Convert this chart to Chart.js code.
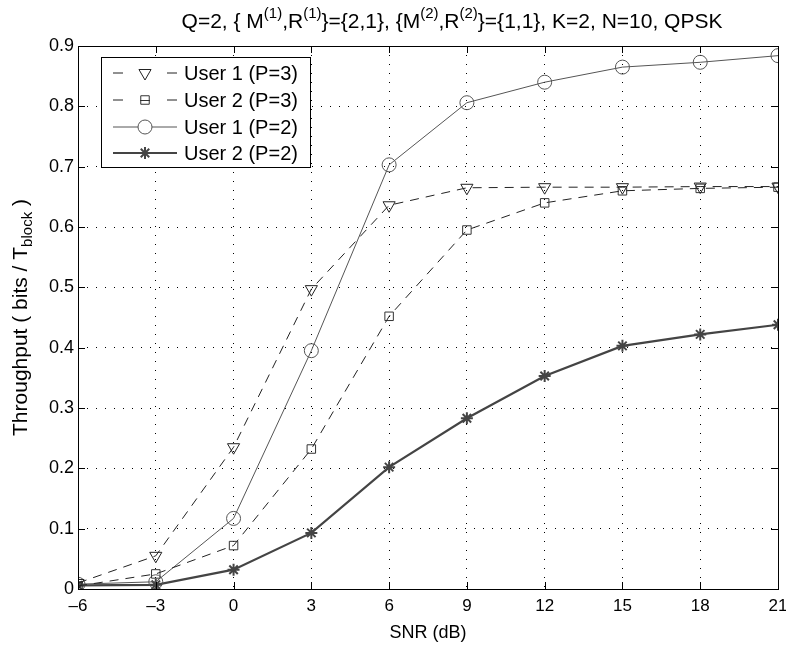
<!DOCTYPE html>
<html>
<head>
<meta charset="utf-8">
<script src="https://cdn.jsdelivr.net/npm/chart.js@4/dist/chart.umd.min.js"></script>
<style>
  html, body { margin: 0; padding: 0; background: #fff; }
  #wrap { width: 786px; height: 646px; }
</style>
</head>
<body>
<div id="wrap"><canvas id="chart" width="786" height="646"></canvas></div>
<script>
// SNR values (dB) and throughput per curve
const snr = [-6, -3, 0, 3, 6, 9, 12, 15, 18, 21];
const user1P3 = [0.010, 0.055, 0.235, 0.497, 0.636, 0.665, 0.666, 0.666, 0.667, 0.667];
const user2P3 = [0.005, 0.025, 0.072, 0.232, 0.452, 0.595, 0.640, 0.660, 0.664, 0.666];
const user1P2 = [0.008, 0.012, 0.117, 0.395, 0.703, 0.806, 0.840, 0.865, 0.873, 0.884];
const user2P2 = [0.006, 0.007, 0.032, 0.093, 0.202, 0.283, 0.353, 0.403, 0.422, 0.438];

const seriesLabels = ["User 1 (P=3)", "User 2 (P=3)", "User 1 (P=2)", "User 2 (P=2)"];
const xTickLabels = ["\u20136", "\u20133", "0", "3", "6", "9", "12", "15", "18", "21"];
const yTickLabels = ["0", "0.1", "0.2", "0.3", "0.4", "0.5", "0.6", "0.7", "0.8", "0.9"];

const FONT = "'Liberation Sans', Arial, sans-serif";

function toPoints(ys) {
    return snr.map((x, i) => ({ x: x, y: ys[i] }));
}

const datasets = [
    {
        label: seriesLabels[0],
        data: toPoints(user1P3),
        borderColor: "#222",
        borderWidth: 1,
        borderDash: [9, 7],
        pointStyle: "triangle",
        rotation: 180,
        pointRadius: 7,
        pointBorderWidth: 1,
        pointBorderColor: "#222",
        pointBackgroundColor: "rgba(0,0,0,0)"
    },
    {
        label: seriesLabels[1],
        data: toPoints(user2P3),
        borderColor: "#222",
        borderWidth: 1,
        borderDash: [9, 7],
        pointStyle: "rect",
        pointRadius: 6,
        pointBorderWidth: 1,
        pointBorderColor: "#333",
        pointBackgroundColor: "rgba(0,0,0,0)"
    },
    {
        label: seriesLabels[2],
        data: toPoints(user1P2),
        borderColor: "#555",
        borderWidth: 1,
        pointStyle: "circle",
        pointRadius: 7,
        pointBorderWidth: 1,
        pointBorderColor: "#555",
        pointBackgroundColor: "rgba(0,0,0,0)"
    },
    {
        label: seriesLabels[3],
        data: toPoints(user2P2),
        borderColor: "#444",
        borderWidth: 2.2,
        pointStyle: "star",
        pointRadius: 6,
        pointBorderWidth: 2,
        pointBorderColor: "#444",
        pointBackgroundColor: "rgba(0,0,0,0)"
    }
];

// draws text pieces with super/subscripts
function drawRich(ctx, parts, x, y, size, align) {
    const small = Math.round(size * 0.72);
    let total = 0;
    parts.forEach(p => {
        ctx.font = (p.sup || p.sub ? small : size) + "px " + FONT;
        p.w = ctx.measureText(p.t).width;
        total += p.w;
    });
    let cx = align === "center" ? x - total / 2 : x;
    ctx.textAlign = "left";
    ctx.textBaseline = "middle";
    parts.forEach(p => {
        ctx.font = (p.sup || p.sub ? small : size) + "px " + FONT;
        let dy = 0;
        if (p.sup) dy = -size * 0.38;
        if (p.sub) dy = size * 0.32;
        ctx.fillText(p.t, cx, y + dy);
        cx += p.w;
    });
}

const decorPlugin = {
    id: "decor",
    afterDraw(chart) {
        const ctx = chart.ctx;
        const a = chart.chartArea;
        const xs = chart.scales.x;
        const ys = chart.scales.y;
        ctx.save();

        // box
        ctx.strokeStyle = "#000";
        ctx.lineWidth = 1;
        ctx.setLineDash([]);
        ctx.strokeRect(Math.round(a.left) + 0.5, Math.round(a.top) + 0.5,
            Math.round(a.right - a.left), Math.round(a.bottom - a.top));

        // inward ticks
        const tl = 7;
        ctx.beginPath();
        snr.forEach(v => {
            const px = Math.round(xs.getPixelForValue(v)) + 0.5;
            ctx.moveTo(px, a.bottom); ctx.lineTo(px, a.bottom - tl);
            ctx.moveTo(px, a.top); ctx.lineTo(px, a.top + tl);
        });
        yTickLabels.forEach((s, i) => {
            const py = Math.round(ys.getPixelForValue(i / 10)) + 0.5;
            ctx.moveTo(a.left, py); ctx.lineTo(a.left + tl, py);
            ctx.moveTo(a.right, py); ctx.lineTo(a.right - tl, py);
        });
        ctx.stroke();

        // legend
        const lx = 101, ly = 57, lw = 209, lh = 110;
        ctx.fillStyle = "#fff";
        ctx.fillRect(lx, ly, lw, lh);
        ctx.strokeStyle = "#000";
        ctx.lineWidth = 1;
        ctx.strokeRect(lx + 0.5, ly + 0.5, lw, lh);
        const rows = [73, 100, 127, 153];
        chart.data.datasets.forEach((ds, i) => {
            const y = rows[i];
            ctx.strokeStyle = ds.borderColor;
            ctx.lineWidth = ds.borderWidth;
            ctx.setLineDash([]);
            ctx.beginPath();
            if (ds.borderDash) {
                ctx.moveTo(113, y); ctx.lineTo(123, y);
                ctx.moveTo(167, y); ctx.lineTo(177, y);
            } else {
                ctx.moveTo(113, y); ctx.lineTo(177, y);
            }
            ctx.stroke();
            ctx.strokeStyle = ds.pointBorderColor;
            ctx.fillStyle = "#fff";
            ctx.lineWidth = ds.pointBorderWidth;
            Chart.helpers.drawPoint(ctx, {
                pointStyle: ds.pointStyle,
                radius: ds.pointRadius,
                rotation: ds.rotation || 0,
                borderWidth: ds.pointBorderWidth
            }, 145, y);
            if (ds.pointStyle === "rect") {
                // dash of the sample line shows through the square
                ctx.beginPath();
                ctx.moveTo(140, y + 0.5); ctx.lineTo(150, y + 0.5);
                ctx.stroke();
            }
            ctx.fillStyle = "#000";
            ctx.font = "20px " + FONT;
            ctx.textAlign = "left";
            ctx.textBaseline = "middle";
            ctx.fillText(ds.label, 184, y + 1);
        });

        // title
        ctx.fillStyle = "#000";
        drawRich(ctx, [
            { t: "Q=2, { M" }, { t: "(1)", sup: true }, { t: ",R" }, { t: "(1)", sup: true },
            { t: "}={2,1}, {M" }, { t: "(2)", sup: true }, { t: ",R" }, { t: "(2)", sup: true },
            { t: "}={1,1}, K=2, N=10, QPSK" }
        ], 452, 22, 21, "center");

        // x axis title
        ctx.font = "18px " + FONT;
        ctx.textAlign = "center";
        ctx.textBaseline = "middle";
        ctx.fillText("SNR (dB)", (a.left + a.right) / 2, 633);

        // y axis title
        ctx.translate(23, (a.top + a.bottom) / 2);
        ctx.rotate(-Math.PI / 2);
        drawRich(ctx, [
            { t: "Throughput ( bits / T" }, { t: "block", sub: true }, { t: " )" }
        ], 0, -2, 21, "center");

        ctx.restore();
    }
};

new Chart(document.getElementById("chart"), {
    type: "line",
    data: { datasets: datasets },
    options: {
        responsive: false,
        animation: false,
        layout: { padding: { left: 0, right: 8, top: 46, bottom: 0 } },
        plugins: {
            legend: { display: false },
            tooltip: { enabled: false },
            title: { display: false }
        },
        scales: {
            x: {
                type: "linear",
                min: -6,
                max: 21,
                afterFit: s => { s.height = 57; s.paddingLeft = 0; s.paddingRight = 0; },
                afterBuildTicks: s => { s.ticks = snr.map(v => ({ value: v })); },
                ticks: {
                    color: "#000",
                    font: { size: 17, family: FONT },
                    padding: 7,
                    maxRotation: 0,
                    callback: (v) => xTickLabels[snr.indexOf(v)]
                },
                grid: { color: "#000", lineWidth: 1, drawTicks: false },
                border: { display: false, dash: [1, 8] }
            },
            y: {
                min: 0,
                max: 0.9,
                afterFit: s => { s.width = 78; s.paddingTop = 0; s.paddingBottom = 0; },
                afterBuildTicks: s => { s.ticks = yTickLabels.map((t, i) => ({ value: i / 10 })); },
                ticks: {
                    color: "#000",
                    font: { size: 18, family: FONT },
                    padding: 4,
                    callback: (v) => yTickLabels[Math.round(v * 10)]
                },
                grid: { color: "#000", lineWidth: 1, drawTicks: false },
                border: { display: false, dash: [1, 8] }
            }
        }
    },
    plugins: [decorPlugin]
});
</script>
</body>
</html>
